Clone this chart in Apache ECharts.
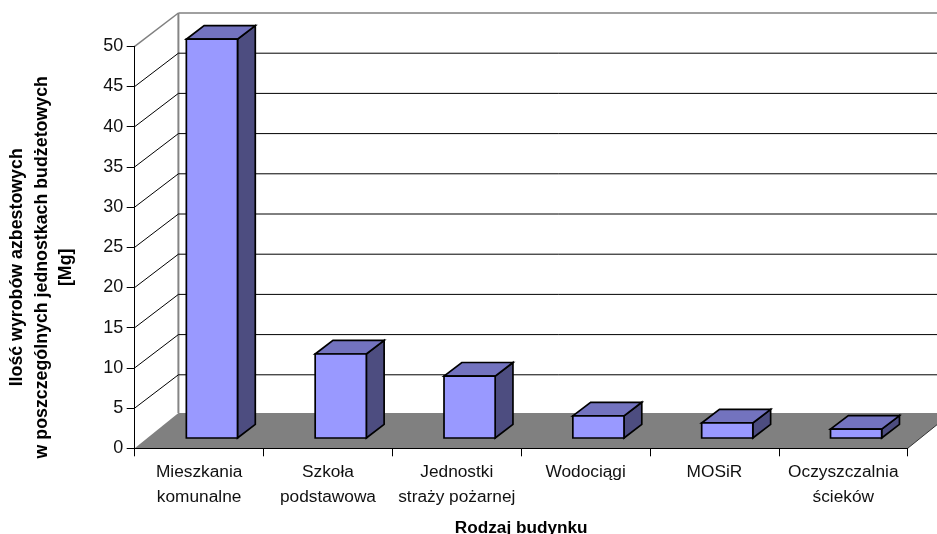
<!DOCTYPE html>
<html>
<head>
<meta charset="utf-8">
<style>html,body{margin:0;padding:0;background:#fff}#chart{width:937px;height:534px}</style>
<script src="https://cdn.jsdelivr.net/npm/echarts@6/dist/echarts.min.js"></script>
</head>
<body>
<div id="chart"></div>
<script>
// Ilość wyrobów azbestowych wg rodzaju budynku [Mg]
const categories = ['Mieszkania\nkomunalne', 'Szkoła\npodstawowa', 'Jednostki\nstraży pożarnej', 'Wodociągi', 'MOSiR', 'Oczyszczalnia\nścieków'];
const values = [49.6, 10.45, 7.7, 2.75, 1.87, 1.1];
const wallTicks = [5, 10, 15, 20, 25, 30, 35, 40, 45, 50];
const yAxisTitle = 'Ilość wyrobów azbestowych\nw poszczególnych jednostkach budżetowych\n[Mg]';
const xAxisTitle = 'Rodzaj budynku';

// Oblique projection used for the pseudo-3D box: walls, floor and bar depth
const WALL_DX = 43.7, WALL_DY = -33.3, FLOOR_DY = -35.2;
const BAR_SHIFT_X = 12.8, BAR_SHIFT_Y = -10.3, BAR_DX = 17.8, BAR_DY = -13.6;
const BAR_WIDTH_RATIO = 0.397;

const chart = echarts.init(document.getElementById('chart'), null, { renderer: 'canvas' });
const FONT = '"Liberation Sans", Arial, sans-serif';

function line(x1, y1, x2, y2, stroke, width) {
  return { type: 'line', shape: { x1, y1, x2, y2 }, style: { stroke, lineWidth: width, fill: null } };
}
function poly(points, fill, stroke, width) {
  return { type: 'polygon', shape: { points }, style: { fill, stroke, lineWidth: width, lineJoin: 'miter' } };
}

function renderFloor(params, api) {
  const band = api.size([1, 0])[0];
  const a = api.coord([0, 0]);
  const left = a[0] - band / 2;
  const right = left + band * categories.length;
  const y = a[1];
  return {
    type: 'group',
    children: [
      poly([[left, y], [right, y], [right + WALL_DX, y + FLOOR_DY], [left + WALL_DX, y + FLOOR_DY]], '#808080', null, 0),
      line(left + WALL_DX, y + FLOOR_DY, left + WALL_DX, api.coord([0, 50])[1] + WALL_DY, '#858585', 2),
      line(right, y, right + WALL_DX, y + FLOOR_DY, '#333333', 1)
    ]
  };
}

function renderWall(params, api) {
  const band = api.size([1, 0])[0];
  const p = api.coord([0, api.value(1)]);
  const left = p[0] - band / 2;
  const right = left + band * categories.length;
  const isTop = api.value(1) === 50;
  const backY = p[1] + WALL_DY;
  return {
    type: 'group',
    children: [
      line(left, p[1], left + WALL_DX, backY, isTop ? '#808080' : '#000000', isTop ? 1.5 : 1),
      line(left + WALL_DX, backY, right + WALL_DX, backY, isTop ? '#808080' : '#000000', isTop ? 1.5 : 1)
    ]
  };
}

function renderBar(params, api) {
  const band = api.size([1, 0])[0];
  const w = band * BAR_WIDTH_RATIO;
  const base = api.coord([api.value(0), 0]);
  const top = api.coord([api.value(0), api.value(1)]);
  const x0 = base[0] + BAR_SHIFT_X - w / 2;
  const x1 = x0 + w;
  const y0 = base[1] + BAR_SHIFT_Y;
  const y1 = top[1] + BAR_SHIFT_Y;
  const sw = 1.7, ink = '#000000';
  return {
    type: 'group',
    children: [
      poly([[x1, y0], [x1 + BAR_DX, y0 + BAR_DY], [x1 + BAR_DX, y1 + BAR_DY], [x1, y1]], '#4D4D80', ink, sw),
      poly([[x0, y1], [x1, y1], [x1 + BAR_DX, y1 + BAR_DY], [x0 + BAR_DX, y1 + BAR_DY]], '#7373BF', ink, sw),
      poly([[x0, y0], [x1, y0], [x1, y1], [x0, y1]], '#9999FF', ink, sw)
    ]
  };
}

chart.setOption({
  animation: false,
  backgroundColor: '#ffffff',
  grid: { left: 134.7, right: 937 - 907.7, top: 46.3, bottom: 534 - 448.3, outerBoundsMode: 'none', containLabel: false },
  xAxis: {
    type: 'category',
    data: categories,
    z: 5,
    axisLine: { show: true, lineStyle: { color: '#000000', width: 1 } },
    axisTick: { show: true, length: 8, alignWithLabel: false, lineStyle: { color: '#000000', width: 1 } },
    axisLabel: { interval: 0, hideOverlap: false, color: '#111111', fontFamily: FONT, fontSize: 17.3, lineHeight: 24.5, margin: 12 },
    name: xAxisTitle,
    nameLocation: 'middle',
    nameGap: 71,
    nameTextStyle: { color: '#000000', fontFamily: FONT, fontWeight: 'bold', fontSize: 17.2 }
  },
  yAxis: {
    type: 'value',
    min: 0,
    max: 50,
    interval: 5,
    z: 5,
    axisLine: { show: true, lineStyle: { color: '#000000', width: 1 } },
    axisTick: { show: true, length: 8, lineStyle: { color: '#000000', width: 1 } },
    axisLabel: { color: '#111111', fontFamily: FONT, fontSize: 18, margin: 11.5 },
    splitLine: { show: false },
    name: yAxisTitle,
    nameLocation: 'middle',
    nameRotate: 90,
    nameGap: 56,
    nameTextStyle: { color: '#000000', fontFamily: FONT, fontWeight: 'bold', fontSize: 17.8, lineHeight: 24.5, align: 'center', padding: [0, 0, 0, -40] }
  },
  series: [
    { type: 'custom', z: 1, silent: true, renderItem: renderFloor, data: [[0, 0]], encode: { x: 0, y: 1 } },
    { type: 'custom', z: 2, silent: true, renderItem: renderWall, data: wallTicks.map(v => [0, v]), encode: { x: 0, y: 1 } },
    { type: 'custom', z: 3, silent: true, renderItem: renderBar, data: values.map((v, i) => [i, v]), encode: { x: 0, y: 1 } }
  ]
});
</script>
</body>
</html>
